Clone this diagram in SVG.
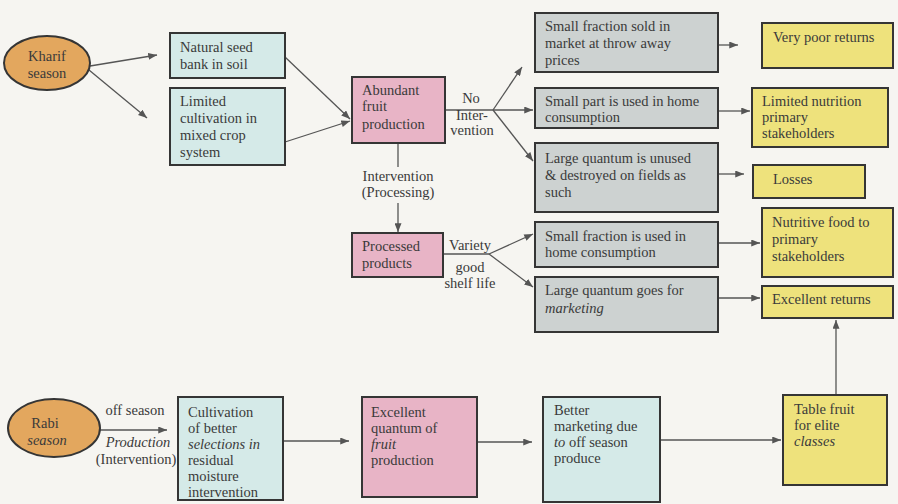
<svg xmlns="http://www.w3.org/2000/svg" width="898" height="504" viewBox="0 0 898 504">
<defs>
<style>
text{font-family:"Liberation Serif","Times New Roman",serif;font-size:14.5px;fill:#3a3a3a}
.c{text-anchor:middle}
.i{font-style:italic}
.box{stroke:#353535;stroke-width:2}
.cyan{fill:#D5EAE8}
.gray{fill:#CDD2D1}
.yellow{fill:#EEE27C}
.pink{fill:#E8B4C6}
.orange{fill:#E3A75E}
.conn{stroke:#555;stroke-width:1.3;fill:none}
.arr{marker-end:url(#ah)}
</style>
<marker id="ah" viewBox="0 0 10 8" refX="10" refY="4" markerWidth="9" markerHeight="7" markerUnits="userSpaceOnUse" orient="auto">
<path d="M0,0 L10,4 L0,8 z" fill="#555"/>
</marker>
</defs>
<rect x="0" y="0" width="898" height="504" fill="#F6F5F1"/>

<g id="connectors">
<path class="conn arr" d="M90,66 L157,55"/>
<path class="conn arr" d="M89,70 L147,118"/>
<path class="conn arr" d="M285,57 L350,119"/>
<path class="conn arr" d="M285,142 L350,121"/>
<path class="conn" d="M445,110 L493,110"/>
<path class="conn arr" d="M493,110 L522,67"/>
<path class="conn arr" d="M493,110 L533,110"/>
<path class="conn arr" d="M493,110 L533,161"/>
<path class="conn" d="M398,143 L398,167"/>
<path class="conn arr" d="M398,203 L398,232"/>
<path class="conn" d="M443,254 L489,254"/>
<path class="conn arr" d="M489,254 L533,234"/>
<path class="conn arr" d="M489,254 L533,287"/>
<path class="conn arr" d="M718,45 L738,45"/>
<path class="conn arr" d="M718,111 L750,111"/>
<path class="conn arr" d="M718,174 L744,174"/>
<path class="conn arr" d="M718,243 L760,243"/>
<path class="conn arr" d="M718,298 L760,298"/>
<path class="conn arr" d="M100,430 L167,430"/>
<path class="conn arr" d="M283,441 L349,441"/>
<path class="conn arr" d="M477,442 L532,442"/>
<path class="conn arr" d="M660,440 L781,440"/>
<path class="conn arr" d="M836,395 L836,320"/>
</g>

<g id="labels">
<text class="c" x="471" y="103">No</text>
<text class="c" x="472" y="120">Inter-</text>
<text class="c" x="472" y="135">vention</text>
<text class="c" x="398" y="181">Intervention</text>
<text class="c" x="398" y="197">(Processing)</text>
<text class="c" x="470" y="250">Variety</text>
<text class="c" x="470" y="272">good</text>
<text class="c" x="470" y="288">shelf life</text>
<text class="c" x="135" y="415">off season</text>
<text class="c i" x="138" y="447">Production</text>
<text class="c" x="136" y="464">(Intervention)</text>
</g>

<g id="kharif">
<ellipse class="box orange" cx="47" cy="63" rx="43" ry="27"/>
<text class="c" x="47" y="61">Kharif</text>
<text class="c" x="47" y="78">season</text>
</g>
<g id="rabi">
<ellipse class="box orange" cx="54" cy="428" rx="46" ry="29"/>
<text class="c" x="45" y="428">Rabi</text>
<text class="c i" x="47" y="445">season</text>
</g>

<g id="natural-seed">
<rect class="box cyan" x="170" y="33" width="115" height="45"/>
<text x="180" y="52">Natural seed</text>
<text x="180" y="69">bank in soil</text>
</g>
<g id="limited-cultivation">
<rect class="box cyan" x="170" y="88" width="115" height="77"/>
<text x="180" y="106">Limited</text>
<text x="180" y="123">cultivation in</text>
<text x="180" y="140">mixed crop</text>
<text x="180" y="157">system</text>
</g>
<g id="abundant">
<rect class="box pink" x="352" y="77" width="93" height="66"/>
<text x="362" y="95">Abundant</text>
<text x="362" y="111">fruit</text>
<text x="362" y="129">production</text>
</g>
<g id="processed">
<rect class="box pink" x="352" y="233" width="91" height="44"/>
<text x="362" y="251">Processed</text>
<text x="362" y="268">products</text>
</g>
<g id="sold">
<rect class="box gray" x="535" y="13" width="183" height="59"/>
<text x="545" y="31">Small fraction sold in</text>
<text x="545" y="48">market at throw away</text>
<text x="545" y="65">prices</text>
</g>
<g id="home">
<rect class="box gray" x="535" y="88" width="183" height="40"/>
<text x="545" y="106">Small part is used in home</text>
<text x="545" y="122">consumption</text>
</g>
<g id="unused">
<rect class="box gray" x="535" y="143" width="183" height="69"/>
<text x="545" y="163">Large quantum is unused</text>
<text x="545" y="180">&amp; destroyed on fields as</text>
<text x="545" y="197">such</text>
</g>
<g id="home2">
<rect class="box gray" x="535" y="222" width="183" height="45"/>
<text x="545" y="241">Small fraction is used in</text>
<text x="545" y="257">home consumption</text>
</g>
<g id="marketing">
<rect class="box gray" x="535" y="277" width="183" height="55"/>
<text x="545" y="295">Large quantum goes for</text>
<text class="i" x="545" y="313">marketing</text>
</g>
<g id="poor">
<rect class="box yellow" x="762" y="23" width="131" height="45"/>
<text x="773" y="42">Very poor returns</text>
</g>
<g id="limited-nutrition">
<rect class="box yellow" x="752" y="88" width="136" height="59"/>
<text x="762" y="106">Limited nutrition</text>
<text x="762" y="122">primary</text>
<text x="762" y="138">stakeholders</text>
</g>
<g id="losses">
<rect class="box yellow" x="753" y="165" width="112" height="33"/>
<text x="773" y="184">Losses</text>
</g>
<g id="nutritive">
<rect class="box yellow" x="762" y="208" width="131" height="69"/>
<text x="772" y="227">Nutritive food to</text>
<text x="772" y="244">primary</text>
<text x="772" y="261">stakeholders</text>
</g>
<g id="excellent-returns">
<rect class="box yellow" x="762" y="286" width="131" height="32"/>
<text x="772" y="304">Excellent returns</text>
</g>
<g id="cultivation">
<rect class="box cyan" x="178" y="397" width="105" height="103"/>
<text x="188" y="417">Cultivation</text>
<text x="188" y="433">of better</text>
<text class="i" x="188" y="449">selections in</text>
<text x="188" y="465">residual</text>
<text x="188" y="481">moisture</text>
<text x="188" y="497">intervention</text>
</g>
<g id="excellent-quantum">
<rect class="box pink" x="362" y="397" width="115" height="100"/>
<text x="371" y="417">Excellent</text>
<text x="371" y="433">quantum of</text>
<text class="i" x="371" y="449">fruit</text>
<text x="371" y="465">production</text>
</g>
<g id="better-marketing">
<rect class="box cyan" x="543" y="397" width="117" height="105"/>
<text x="554" y="415">Better</text>
<text x="554" y="431">marketing due</text>
<text x="554" y="447"><tspan class="i">to</tspan> off season</text>
<text x="554" y="463">produce</text>
</g>
<g id="table-fruit">
<rect class="box yellow" x="783" y="395" width="104" height="90"/>
<text x="794" y="414">Table fruit</text>
<text x="794" y="430">for elite</text>
<text class="i" x="794" y="446">classes</text>
</g>
</svg>
